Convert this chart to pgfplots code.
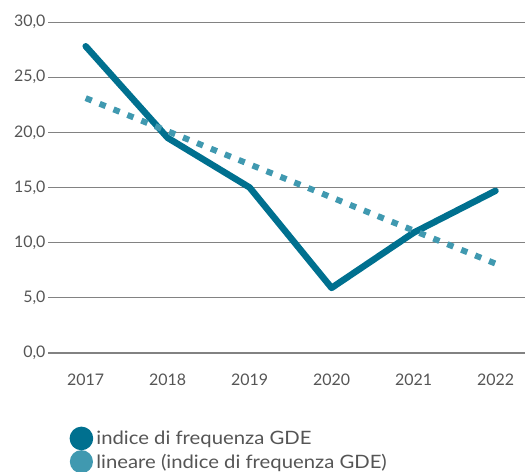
\documentclass[border=0pt]{standalone}
\usepackage{pgfplots}
\pgfplotsset{compat=1.18}
\usepackage{fontspec}
\setmainfont{Lato}
\newfontfamily\legfont[FakeStretch=1.1]{Lato}
\definecolor{mainc}{RGB}{0,112,143}
\definecolor{trendc}{RGB}{64,153,176}
\definecolor{tickc}{RGB}{85,85,85}
\definecolor{gridc}{RGB}{130,130,130}
\begin{document}
\begin{tikzpicture}[x=1bp,y=1bp]
\useasboundingbox (0,0) rectangle (525,472);
\begin{axis}[at={(48bp,119bp)}, anchor=south west, scale only axis, width=477bp, height=331bp,
  xmin=-0.46, xmax=5.36, ymin=0, ymax=30,
  ytick={0,5,...,30}, xtick={0,...,5}, xticklabels={2017,2018,2019,2020,2021,2022},
  axis x line=bottom, axis y line=left, x axis line style={-, draw=gridc, line width=2.5bp},
  y axis line style={draw=none}, major tick length=0pt,
  ymajorgrids, grid style={gridc, line width=0.9bp},
  tick label style={font=\fontsize{16}{16}\selectfont, text=tickc},
  yticklabel style={xshift=1bp, /pgf/number format/.cd, fixed, fixed zerofill, precision=1, use comma, assume math mode=true},
  xticklabel style={yshift=-17bp},
  legend style={at={(0.045,-0.222)}, anchor=north west, draw=none, fill=none,
    font=\legfont\fontsize{18.5}{21}\selectfont, text=tickc, row sep=0bp, inner sep=0pt},
  legend cell align=left, clip=false]
\addplot[mainc, line width=6.5bp, line cap=round, line join=round,
  legend image code/.code={\fill[mainc, solid] (0bp,0bp) circle (8.5bp); \path[draw=none] (-8.5bp,0bp) -- (13bp,0bp);}]
  coordinates {(0,27.8) (1,19.5) (2,15.0) (3,5.9) (4,10.9) (5,14.7)};
\addlegendentry{indice di frequenza GDE}
\addplot[trendc, line width=6bp, dash pattern=on 6.5bp off 8.5bp,
  legend image code/.code={\fill[trendc, solid] (0bp,0bp) circle (8.5bp); \path[draw=none] (-8.5bp,0bp) -- (13bp,0bp);}]
  coordinates {(0,23.1) (5,8.1)};
\addlegendentry{lineare (indice di frequenza GDE)}
\end{axis}
\end{tikzpicture}
\end{document}
